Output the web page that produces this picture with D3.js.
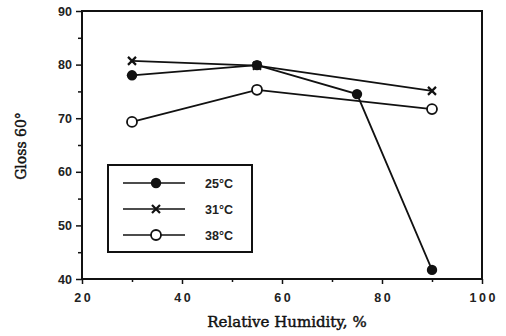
<!DOCTYPE html>
<html>
<head>
<meta charset="utf-8">
<script src="https://cdn.jsdelivr.net/npm/d3@7"></script>
<style>
  html, body { margin: 0; padding: 0; background: #fff; }
  svg { display: block; }
</style>
</head>
<body>
<svg id="chart" width="506" height="336"></svg>
<script>
// Relative humidity (%) at which gloss was measured
const humidity25 = [30, 55, 75, 90];
const gloss25 = [78.0, 79.9, 74.5, 41.7];

const humidity31 = [30, 55, 90];
const gloss31 = [80.7, 79.8, 75.1];

const humidity38 = [30, 55, 90];
const gloss38 = [69.3, 75.3, 71.7];

const seriesLabels = ["25°C", "31°C", "38°C"];
const seriesMarkers = ["filled", "cross", "open"];

const xTicks = [20, 40, 60, 80, 100];
const yTicks = [40, 50, 60, 70, 80, 90];
const xMinorTicks = [30, 50, 70, 90];
const yMinorTicks = [45, 55, 65, 75, 85];

const series = [
  { label: seriesLabels[0], marker: seriesMarkers[0], x: humidity25, y: gloss25 },
  { label: seriesLabels[1], marker: seriesMarkers[1], x: humidity31, y: gloss31 },
  { label: seriesLabels[2], marker: seriesMarkers[2], x: humidity38, y: gloss38 }
];

const svg = d3.select("#chart");
const plotLeft = 82, plotRight = 482, plotTop = 11, plotBottom = 279;

const x = d3.scaleLinear().domain([20, 100]).range([plotLeft, plotRight]);
const y = d3.scaleLinear().domain([40, 90]).range([plotBottom, plotTop]);

const sans = "'Liberation Sans', Arial, sans-serif";
const serif = "'DejaVu Serif', 'Liberation Serif', serif";

// Frame around the plotting area
svg.append("rect")
  .attr("x", plotLeft).attr("y", plotTop)
  .attr("width", plotRight - plotLeft).attr("height", plotBottom - plotTop)
  .attr("fill", "none").attr("stroke", "#111").attr("stroke-width", 2);

// Bottom axis
const xAxis = svg.append("g").attr("transform", `translate(0,${plotBottom})`)
  .call(d3.axisBottom(x).tickValues(xTicks).tickSize(5).tickPadding(9)
    .tickFormat(d => String(d).split("").join("\u2009")));
xAxis.select(".domain").remove();
xAxis.selectAll("line").attr("stroke", "#111").attr("stroke-width", 1.5);
xAxis.selectAll("text").attr("font-family", sans).attr("font-size", 12.5)
  .attr("font-weight", "bold").attr("fill", "#222");

svg.append("g").attr("transform", `translate(0,${plotBottom})`)
  .call(d3.axisBottom(x).tickValues(xMinorTicks).tickSize(3).tickFormat(""))
  .call(g => g.select(".domain").remove())
  .selectAll("line").attr("stroke", "#111").attr("stroke-width", 1.5);

// Left axis
const yAxis = svg.append("g").attr("transform", `translate(${plotLeft},0)`)
  .call(d3.axisLeft(y).tickValues(yTicks).tickSize(6).tickPadding(4));
yAxis.select(".domain").remove();
yAxis.selectAll("line").attr("stroke", "#111").attr("stroke-width", 1.5);
yAxis.selectAll("text").attr("font-family", sans).attr("font-size", 12.5)
  .attr("font-weight", "bold").attr("fill", "#222");

svg.append("g").attr("transform", `translate(${plotLeft},0)`)
  .call(d3.axisLeft(y).tickValues(yMinorTicks).tickSize(4).tickFormat(""))
  .call(g => g.select(".domain").remove())
  .selectAll("line").attr("stroke", "#111").attr("stroke-width", 1.5);

// Axis titles
svg.append("text")
  .attr("x", 287).attr("y", 327)
  .attr("text-anchor", "middle")
  .attr("font-family", serif).attr("font-size", 15)
  .attr("fill", "#111").attr("stroke", "#111").attr("stroke-width", 0.45)
  .text("Relative Humidity, %");

svg.append("text")
  .attr("transform", `translate(26,146) rotate(-90)`)
  .attr("text-anchor", "middle")
  .attr("font-family", serif).attr("font-size", 14)
  .attr("fill", "#111").attr("stroke", "#111").attr("stroke-width", 0.45)
  .text("Gloss 60°");

function drawMarker(g, kind, cx, cy) {
  if (kind === "filled") {
    g.append("circle").attr("cx", cx).attr("cy", cy).attr("r", 5.2).attr("fill", "#111");
  } else if (kind === "open") {
    g.append("circle").attr("cx", cx).attr("cy", cy).attr("r", 5)
      .attr("fill", "#fff").attr("stroke", "#111").attr("stroke-width", 1.8);
  } else {
    const s = 4;
    g.append("path")
      .attr("d", `M${cx - s},${cy - s}L${cx + s},${cy + s}M${cx - s},${cy + s}L${cx + s},${cy - s}`)
      .attr("stroke", "#111").attr("stroke-width", 2.2);
  }
}

const line = d3.line().x(d => x(d[0])).y(d => y(d[1]));

// Draw order keeps the filled circles on top
const drawOrder = [2, 1, 0];
drawOrder.forEach(i => {
  const s = series[i];
  const pts = s.x.map((v, k) => [v, s.y[k]]);
  const g = svg.append("g");
  g.append("path").attr("d", line(pts))
    .attr("fill", "none").attr("stroke", "#111").attr("stroke-width", 1.8);
  pts.forEach(p => drawMarker(g, s.marker, x(p[0]), y(p[1])));
});

// Legend
const legend = svg.append("g");
legend.append("rect")
  .attr("x", 108).attr("y", 165).attr("width", 144).attr("height", 87)
  .attr("fill", "#fff").attr("stroke", "#111").attr("stroke-width", 2);

series.forEach((s, i) => {
  const ly = 183 + i * 26;
  legend.append("line").attr("x1", 123).attr("x2", 185).attr("y1", ly).attr("y2", ly)
    .attr("stroke", "#111").attr("stroke-width", 1.6);
  drawMarker(legend, s.marker, 156, ly);
  legend.append("text").attr("x", 205).attr("y", ly + 4.5)
    .attr("font-family", sans).attr("font-size", 12.5).attr("font-weight", "bold")
    .attr("fill", "#222").text(s.label);
});
</script>
</body>
</html>
